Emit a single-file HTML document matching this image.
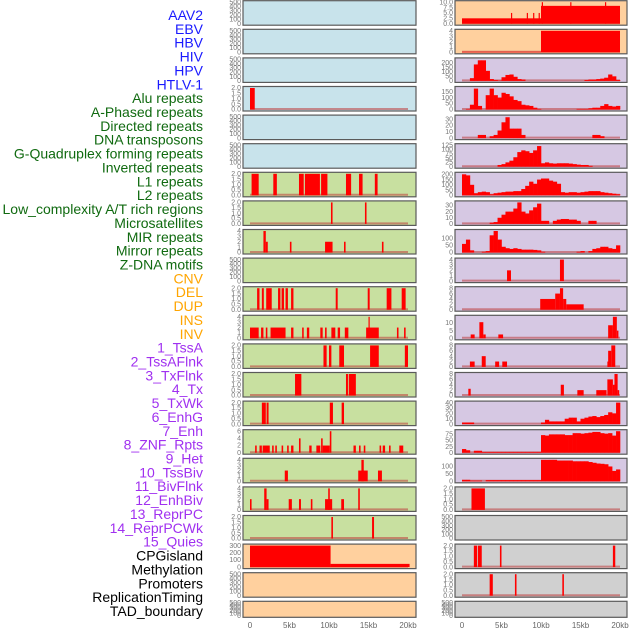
<!DOCTYPE html>
<html><head><meta charset="utf-8"><style>
body{margin:0;background:#fff;width:630px;height:630px;overflow:hidden}
svg{display:block;font-family:"Liberation Sans",sans-serif}
</style></head><body>
<svg id="chart" width="630" height="630" viewBox="0 0 630 630"></svg>
<script>
// ---- data ----
const trackLabels=['AAV2','EBV','HBV','HIV','HPV','HTLV-1','Alu repeats','A-Phased repeats','Directed repeats','DNA transposons','G-Quadruplex forming repeats','Inverted repeats','L1 repeats','L2 repeats','Low_complexity A/T rich regions','Microsatellites','MIR repeats','Mirror repeats','Z-DNA motifs','CNV','DEL','DUP','INS','INV','1_TssA','2_TssAFlnk','3_TxFlnk','4_Tx','5_TxWk','6_EnhG','7_Enh','8_ZNF_Rpts','9_Het','10_TssBiv','11_BivFlnk','12_EnhBiv','13_ReprPC','14_ReprPCWk','15_Quies','CPGisland','Methylation','Promoters','ReplicationTiming','TAD_boundary'];
const labelGroups=[6,13,5,15,5];
const xTicks=[0,5,10,15,20];
const xTickLabels=['0','5kb','10kb','15kb','20kb'];
const ticks500=[0,100,200,300,400,500];
const ticks2=[0,0.5,1,1.5,2];
const ticks4=[0,1,2,3,4];
const ticks6=[0,2,4,6];
const ticks8=[0,2,4,6,8];
const ticks10=[0,2.5,5,7.5,10];
const ticks10b=[0,5,10];
const ticks30=[0,10,20,30];
const ticks40=[0,10,20,30,40];
const ticks75=[0,25,50,75];
const ticks100=[0,50,100];
const ticks125=[0,25,50,75,100,125];
const ticks150=[0,50,100,150];
const ticks200=[0,50,100,150,200];
const ticks300=[0,100,200,300];
// left column segments [startKb,endKb,value]
const leftAlu=[[0,0.6,2]];
const leftL1=[[0.2,1.1,2],[2.95,3.4,2],[6.2,6.8,2],[6.95,8.85,2],[9,9.8,2],[12.15,12.8,2],[13.8,14.25,2],[15.8,16.15,2]];
const leftL2=[[10.25,10.45,2],[14.55,14.75,2]];
const leftLowc=[[1.7,2,4],[2,2.25,2],[5.05,5.25,2],[9.5,10.45,2],[11.9,12.1,2],[16.7,16.9,2]];
const leftMirror=[[0.9,1.2,2],[1.5,1.75,2],[2.05,2.75,2],[3.55,3.85,2],[4,4.3,2],[4.5,4.8,2],[5.2,5.5,2],[10.85,11.1,2],[14.9,15.15,2],[17.3,17.9,2],[19.2,19.7,2]];
const leftCnv=[[0,1.1,2],[1.4,1.7,2],[2,2.2,2],[2.6,4.5,2],[5.2,5.5,2],[6.6,6.8,2],[7.2,7.5,2],[8.9,9.2,2],[9.5,9.7,2],[10.3,10.8,2],[11.1,11.4,2],[12,12.45,2],[14.7,16.3,2],[15,15.12,4],[18.6,18.8,2],[19.5,19.7,2]];
const leftDel=[[9.3,9.7,2],[10,10.3,2],[11.3,11.9,2],[15.2,16.3,2],[19.6,20,2]];
const leftDup=[[5.7,6.5,2],[12.15,12.4,2],[12.5,13.4,2]];
const leftIns=[[1.5,2,2],[2.1,2.35,2],[10.1,10.5,2],[11.6,11.9,2]];
const leftInv=[[0.65,0.85,2],[1.2,1.5,2],[1.6,2.5,2],[2.8,3,2],[3.2,3.4,2],[4,4.2,2],[4.7,4.9,2],[5.2,5.5,2],[6.2,6.4,4],[7.5,7.8,2],[8.4,8.9,2],[9,9.2,4],[9.2,10.1,2],[10.1,10.3,6],[13.1,13.4,2],[13.8,14,2],[14.4,14.6,2],[16.4,16.6,2],[16.8,17.1,2],[17.6,17.8,2],[18.9,19.4,2]];
const leftTssA=[[4.4,4.8,2],[13.7,14.9,2],[14.1,14.4,4],[16.2,16.7,2]];
const leftTssAFlnk=[[0,0.2,2],[1.8,2.1,4],[2.1,2.35,2],[4.9,5.3,2],[6.2,6.45,2],[7.7,7.9,2],[9.5,10.4,2],[9.9,10.1,4],[11.55,11.9,2],[13.7,13.9,4]];
const leftTxFlnk=[[10.3,10.5,2],[15.45,15.7,2]];
const leftCpg=[[0,10.2,300],[10.2,20.2,45]];
// right column
const rightAav2=[[0,10,2.5],[10,20,8.3],[6.2,6.35,5],[8.2,8.35,5],[9,9.15,5],[9.7,9.85,5],[10.1,10.25,10],[13.7,13.85,10],[18.1,18.25,10]];
const rightEbv=[[0,10,0.1],[10,20,4]];
const rightHivBins=[0,0,30,180,225,225,110,20,10,5,40,65,70,45,20,15,0,0,0,0,0,0,0,0,0,0,0,0,0,0,0,10,15,15,20,25,35,70,50,10];
const rightHpvBins=[0,5,40,175,30,0,120,175,120,100,140,130,110,80,70,40,35,30,15,5,0,0,0,0,0,0,0,0,0,5,5,5,10,15,15,30,45,30,25,30];
const rightHtlvBins=[0,0,0,0,5,5,0,3,5,12,25,33,15,15,15,5,0,0,0,0,0,0,0,0,0,0,0,0,0,0,0,0,0,5,5,3,0,0,0,0];
const rightAluBins=[0,0,0,0,0,0,0,0,0,10,15,25,35,55,85,95,90,80,95,120,20,25,20,18,20,20,20,18,15,12,10,10,5,0,0,0,0,0,0,0];
const rightAphBins=[200,190,100,20,30,35,30,10,20,25,30,35,35,40,40,60,90,130,110,150,160,160,140,130,110,30,25,30,30,25,30,35,40,40,40,30,25,20,15,10];
const rightDirBins=[0,0,0,0,0,0,0,2,3,10,15,20,20,25,35,20,17,22,27,33,5,5,0,5,7,8,8,7,7,5,0,0,5,5,0,0,0,0,0,0];
const rightDnaBins=[60,90,15,0,0,5,10,120,150,90,40,30,25,30,25,20,20,20,18,15,5,0,0,0,0,0,0,0,0,5,10,0,10,25,30,40,40,30,25,50];
const rightGq=[[5.7,6.2,2],[12.4,12.9,4]];
const rightInv=[[9.9,11.8,4],[11.8,12.4,6],[12.4,12.8,8],[12.8,13.2,4],[13.2,15.4,2]];
const rightL1=[[1.1,1.6,2.5],[2.2,2.7,10.5],[2.7,3,2.5],[4.6,5.2,2.5],[18.5,19.1,8.5],[19.1,19.6,14],[19.6,19.8,5]];
const rightL2=[[1,1.6,2],[2.5,3,4],[4.2,4.7,2],[5.1,5.7,2],[18.4,18.6,2],[18.5,18.9,6],[18.9,19.4,8]];
const rightLowc=[[0.8,1.1,2.5],[12.5,12.9,4],[14.6,15.4,2],[17,18.3,2],[18.4,19.1,6],[19.1,19.3,4],[19.3,19.7,8],[19.7,19.9,2]];
const rightMicroBins=[3,3,3,0,0,0,0,0,0,0,0,0,0,0,0,0,0,0,0,0,3,8,5,5,5,5,10,12,12,5,10,12,14,15,13,15,17,22,20,40];
const rightMirBins=[15,10,0,8,8,3,3,3,3,3,3,3,3,3,3,3,3,3,3,3,72,70,75,75,75,75,72,72,80,80,78,80,82,85,85,80,78,80,70,88];
const rightMirrorBins=[10,10,5,5,5,0,8,8,8,8,8,8,8,8,8,8,8,8,8,8,145,145,145,145,140,140,140,140,135,135,135,135,130,125,120,118,115,100,70,80];
const rightZdna=[[1.2,2.9,2]];
const rightDelR=[[1.5,1.9,2],[2,2.5,2],[4.8,5,2],[19.1,19.4,2]];
const rightDupR=[[3.5,3.9,2],[6.7,6.9,2],[12.7,12.9,2]];

// ---- layout ----
const C={blue:'#c8e3eb',green:'#c8e0a0',orange:'#ffd09e',purple:'#d6c8e3',gray:'#d0d0d0'};
const panels=[
 ['L',0,'blue',500,ticks500,null,null,'aav2'],['L',1,'blue',500,ticks500,null,null,'ebv'],['L',2,'blue',500,ticks500,null,null,'hbv'],
 ['L',3,'blue',2,ticks2,leftAlu,null,'alu'],['L',4,'blue',500,ticks500,null,null,'aphased'],['L',5,'blue',500,ticks500,null,null,'directed'],
 ['L',6,'green',2,ticks2,leftL1,null,'l1'],['L',7,'green',2,ticks2,leftL2,null,'l2'],['L',8,'green',4,ticks4,leftLowc,null,'lowc'],
 ['L',9,'green',500,ticks500,null,null,'micro'],['L',10,'green',2,ticks2,leftMirror,null,'mirror'],['L',11,'green',4,ticks4,leftCnv,null,'cnv'],
 ['L',12,'green',2,ticks2,leftDel,null,'del'],['L',13,'green',2,ticks2,leftDup,null,'dup'],['L',14,'green',2,ticks2,leftIns,null,'ins'],
 ['L',15,'green',6,ticks6,leftInv,null,'inv'],['L',16,'green',4,ticks4,leftTssA,null,'tssa'],['L',17,'green',4,ticks4,leftTssAFlnk,null,'tssaflnk'],
 ['L',18,'green',2,ticks2,leftTxFlnk,null,'txflnk'],['L',19,'orange',300,ticks300,leftCpg,null,'cpg'],['L',20,'orange',500,ticks500,null,null,'methyl'],
 ['L',21,'orange',500,ticks500,null,null,'tad'],
 ['R',0,'orange',10,ticks10,rightAav2,null,'aav2'],['R',1,'orange',4,ticks4,rightEbv,null,'ebv'],['R',2,'purple',235,ticks200,null,rightHivBins,'hiv'],
 ['R',3,'purple',180,ticks150,null,rightHpvBins,'hpv'],['R',4,'purple',34,ticks30,null,rightHtlvBins,'htlv'],['R',5,'purple',125,ticks125,null,rightAluBins,'alu'],
 ['R',6,'purple',205,ticks200,null,rightAphBins,'aphased'],['R',7,'purple',35,ticks30,null,rightDirBins,'directed'],['R',8,'purple',150,ticks100,null,rightDnaBins,'dna'],
 ['R',9,'purple',4,ticks4,rightGq,null,'gquad'],['R',10,'purple',8,ticks8,rightInv,null,'inverted'],['R',11,'purple',14,ticks10b,rightL1,null,'l1'],
 ['R',12,'purple',8,ticks8,rightL2,null,'l2'],['R',13,'purple',8,ticks8,rightLowc,null,'lowc'],['R',14,'purple',40,ticks40,null,rightMicroBins,'micro'],
 ['R',15,'purple',88,ticks75,null,rightMirBins,'mir'],['R',16,'purple',145,ticks100,null,rightMirrorBins,'mirror'],['R',17,'gray',2,ticks2,rightZdna,null,'zdna'],
 ['R',18,'gray',500,ticks500,null,null,'cnv'],['R',19,'gray',2,ticks2,rightDelR,null,'del'],['R',20,'gray',2,ticks2,rightDupR,null,'dup'],
 ['R',21,'gray',500,ticks500,null,null,'ins']
];
const svg=document.getElementById('chart');
const NS='http://www.w3.org/2000/svg';
function mk(tag,attrs,parent){const e=document.createElementNS(NS,tag);for(const k in attrs)e.setAttribute(k,attrs[k]);(parent||svg).appendChild(e);return e;}
function xScale(col,kb){return (col==='L'?250:462)+kb*7.9;}
const colLeft={L:243,R:455},colW={L:173,R:172};

// labels
const lblColors=['#1a1aff','#106a10','#ffa500','#a030f0','#000'];
let gi=0,cnt=0;
trackLabels.forEach((t,i)=>{
  while(cnt>=labelGroups[gi]){gi++;cnt=0;}
  cnt++;
  const e=mk('text',{x:203,y:15+i*13.86+5,'text-anchor':'end','font-size':'14',fill:lblColors[gi]});
  e.textContent=t;
  
  
});

function fmt(v,ticks){const mx=ticks[ticks.length-1];if(mx<=2||ticks.some(t=>t%1!==0))return v.toFixed(1);return String(v);}

panels.forEach(p=>{
  const [col,row,bg,max,ticks,segs,bins,nm]=p;
  const top=0.7+row*28.6, h=row===21?16:24.5, x0=colLeft[col], w=colW[col];
  const g=mk('g',{});
  
  
  const r=mk('rect',{x:x0,y:top,width:w,height:h,fill:C[bg]},g);
  
  
  const y0=top+h-1.5, y1=top+1.5;
  const ys=v=>y0-(v/max)*(y0-y1);
  // y ticks
  ticks.forEach(t=>{
    const tx=mk('text',{x:x0-2,y:ys(t)+2.2,'text-anchor':'end','font-size':'7',fill:'#777'},g);
    tx.textContent=fmt(t,ticks);
    
    
  });
  const hasData=segs||bins;
  if(hasData){
    const bl=mk('line',{x1:xScale(col,0),x2:xScale(col,20),y1:y0-0.5,y2:y0-0.5,stroke:'rgba(190,60,60,0.55)','stroke-width':'2'},g);
    
    
  }
  if(segs){segs.forEach(s=>{
    const a=xScale(col,s[0]),b=xScale(col,s[1]);
    const br=mk('rect',{x:a,y:ys(s[2]),width:Math.max(1.2,b-a),height:y0-ys(s[2]),fill:'#ff0000'},g);
    
    
  });}
  if(bins){bins.forEach((v,i)=>{
    if(!v)return;
    const a=xScale(col,i*0.5),b=xScale(col,i*0.5+0.5);
    const br=mk('rect',{x:a,y:ys(v),width:b-a+0.3,height:y0-ys(v),fill:'#ff0000'},g);
    
    
  });}
  const bd=mk('rect',{x:x0,y:top,width:w,height:h,fill:'none',stroke:'#5a5a5a','stroke-width':'1.2'},g);
  
  
});

// x axes
['L','R'].forEach(col=>{
  xTicks.forEach((t,i)=>{
    const e=mk('text',{x:xScale(col,t),y:628,'text-anchor':'middle','font-size':'8',fill:'#666'});
    e.textContent=xTickLabels[i];
    
    
  });
});
</script>
</body></html>
